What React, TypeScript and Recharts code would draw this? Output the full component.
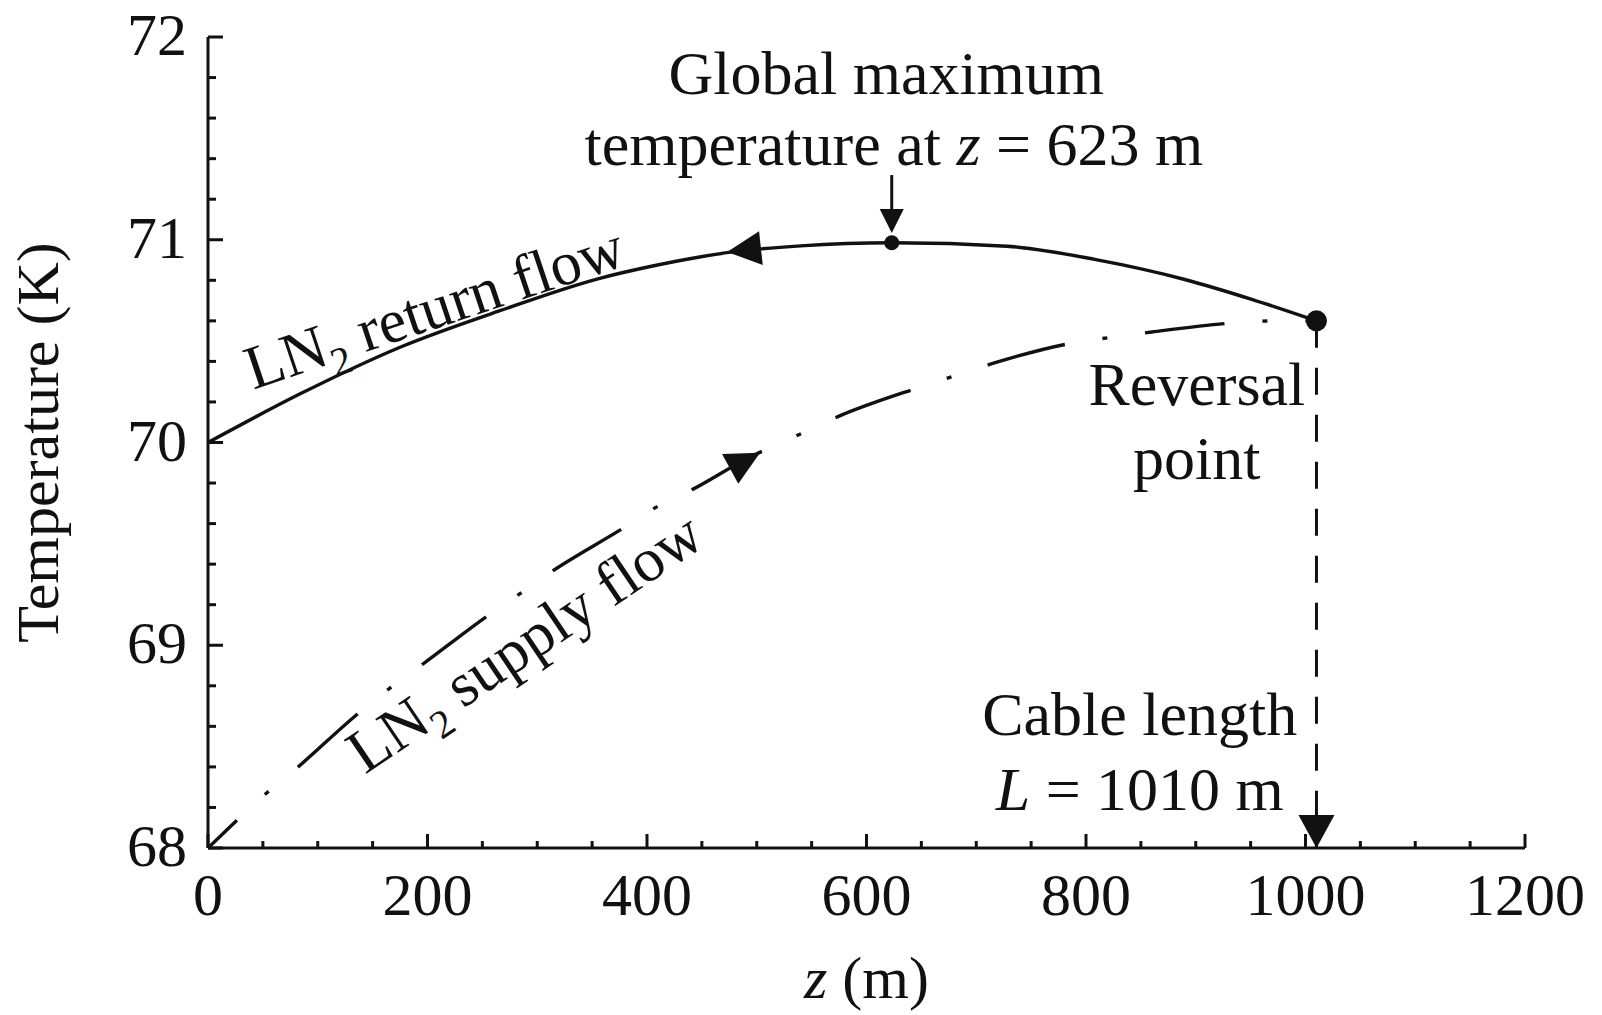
import React from 'react';
import { ComposedChart, Line, XAxis, YAxis, ReferenceDot, ReferenceLine, Label } from 'recharts';

// ---- data ----
const returnZ = [0, 84, 175, 266, 357, 403, 448, 478, 540, 623, 728, 809, 890, 951, 1010];
const returnT = [70.0, 70.24, 70.47, 70.65, 70.81, 70.868, 70.915, 70.94, 70.97, 70.985, 70.968, 70.902, 70.804, 70.706, 70.6];

const supplyZ = [0, 25, 51, 80, 136, 166, 194, 256, 283, 315, 379, 408, 442, 491, 510, 543, 575, 647, 681, 715, 787, 825, 860, 935, 972, 1010];
const supplyT = [68.0, 68.13, 68.26, 68.39, 68.66, 68.79, 68.9, 69.15, 69.25, 69.37, 69.58, 69.68, 69.77, 69.92, 69.97, 70.05, 70.13, 70.27, 70.33, 70.39, 70.49, 70.52, 70.545, 70.59, 70.6, 70.6];

const xTicks = [0, 50, 100, 150, 200, 250, 300, 350, 400, 450, 500, 550, 600, 650, 700, 750, 800, 850, 900, 950, 1000, 1050, 1100, 1150, 1200];
const xMajorTicks = [0, 200, 400, 600, 800, 1000, 1200];
const yTicks = [68, 68.2, 68.4, 68.6, 68.8, 69, 69.2, 69.4, 69.6, 69.8, 70, 70.2, 70.4, 70.6, 70.8, 71, 71.2, 71.4, 71.6, 71.8, 72];
const yMajorTicks = [68, 69, 70, 71, 72];

const maxPoint = { z: 623, t: 70.985 };
const reversalPoint = { z: 1010, t: 70.6 };
const cableLength = 1010;
const returnArrow = { z: 473, t: 70.94 };
const supplyArrow = { z: 503, t: 69.95 };

const returnData = returnZ.map((z, i) => ({ z, t: returnT[i] }));
const supplyData = supplyZ.map((z, i) => ({ z, t: supplyT[i] }));

// ---- style ----
const FONT = "'Liberation Serif', 'Times New Roman', serif";
const INK = '#111';
const TICK_FS = 60;
const ANN_FS = 62;
const AXIS_W = 3;
const CURVE_W = 3.4;

const isMajor = (v: number, majors: number[]) => majors.some((m) => Math.abs(m - v) < 1e-6);

const BottomTick = (p: any) => {
  const { x, y, payload } = p;
  const major = isMajor(payload.value, xMajorTicks);
  return (
    <g>
      <line x1={x} y1={y} x2={x} y2={y - (major ? 14 : 7)} stroke={INK} strokeWidth={AXIS_W} />
      {major && (
        <text x={x} y={y + 67} textAnchor="middle" fontSize={TICK_FS} fontFamily={FONT} fill={INK}>
          {payload.value}
        </text>
      )}
    </g>
  );
};
const TopTick = (p: any) => {
  const { x, y, payload } = p;
  const major = isMajor(payload.value, xMajorTicks);
  return <line x1={x} y1={y} x2={x} y2={y + (major ? 14 : 7)} stroke={INK} strokeWidth={AXIS_W} />;
};
const LeftTick = (p: any) => {
  const { x, y, payload } = p;
  const major = isMajor(payload.value, yMajorTicks);
  return (
    <g>
      <line x1={x} y1={y} x2={x + (major ? 15 : 8)} y2={y} stroke={INK} strokeWidth={AXIS_W} />
      {major && (
        <text x={x - 21} y={y + 18} textAnchor="end" fontSize={TICK_FS} fontFamily={FONT} fill={INK}>
          {Math.round(payload.value)}
        </text>
      )}
    </g>
  );
};
const RightTick = (p: any) => {
  const { x, y, payload } = p;
  const major = isMajor(payload.value, yMajorTicks);
  return <line x1={x} y1={y} x2={x - (major ? 15 : 8)} y2={y} stroke={INK} strokeWidth={AXIS_W} />;
};

const XTitle = (props: any) => {
  const vb = props.viewBox || { x: 0, y: 0, width: 0, height: 0 };
  const cx = vb.x + vb.width / 2;
  return (
    <text x={cx} y={vb.y + 150} textAnchor="middle" fontSize={TICK_FS} fontFamily={FONT} fill={INK}>
      <tspan fontStyle="italic">z</tspan> (m)
    </text>
  );
};
const YTitle = (props: any) => {
  const vb = props.viewBox || { x: 0, y: 0, width: 0, height: 0 };
  const cy = vb.y + vb.height / 2;
  const x = vb.x + 58;
  return (
    <text x={x} y={cy} transform={`rotate(-90 ${x} ${cy})`} textAnchor="middle" fontSize={TICK_FS} fontFamily={FONT} fill={INK}>
      Temperature (K)
    </text>
  );
};

const arrowHead = (angleDeg: number, len: number, wid: number) => (props: any) => {
  const { cx, cy } = props;
  const a = (angleDeg * Math.PI) / 180;
  const dx = Math.cos(a);
  const dy = Math.sin(a);
  const nx = -dy;
  const ny = dx;
  const bx = cx - len * dx;
  const by = cy - len * dy;
  const pts = `${cx},${cy} ${bx + (nx * wid) / 2},${by + (ny * wid) / 2} ${bx - (nx * wid) / 2},${by - (ny * wid) / 2}`;
  return <polygon points={pts} fill={INK} />;
};

const downArrowWithStem = (props: any) => {
  const { cx, cy } = props;
  return (
    <g>
      <line x1={cx} y1={cy - 58} x2={cx} y2={cy - 20} stroke={INK} strokeWidth={3} />
      <polygon points={`${cx},${cy} ${cx - 12},${cy - 24} ${cx + 12},${cy - 24}`} fill={INK} />
    </g>
  );
};

const textShape = (content: React.ReactNode, angle = 0, anchor: 'start' | 'middle' | 'end' = 'middle') => (props: any) => {
  const { cx, cy } = props;
  return (
    <text
      x={cx}
      y={cy}
      textAnchor={anchor}
      transform={angle ? `rotate(${angle} ${cx} ${cy})` : undefined}
      fontSize={ANN_FS}
      fontFamily={FONT}
      fill={INK}
    >
      {content}
    </text>
  );
};

const ln2 = (rest: string) => (
  <>
    LN<tspan fontSize={40} dy={14}>2</tspan>
    <tspan dy={-14}>{rest}</tspan>
  </>
);

const ax = { xAxisId: 'b', yAxisId: 'l' } as const;

export default function App() {
  return (
    <div style={{ position: 'absolute', left: 0, top: 0, width: 1602, height: 1015, background: '#fff' }}>
      <ComposedChart width={1602} height={1015} margin={{ top: 37, right: 77, bottom: 0, left: 0 }}>
        <XAxis
          xAxisId="b"
          type="number"
          dataKey="z"
          domain={[0, 1200]}
          allowDataOverflow
          ticks={xTicks}
          interval={0}
          height={167}
          tickSize={0}
          tickMargin={0}
          tickLine={false}
          tick={<BottomTick />}
          axisLine={{ stroke: INK, strokeWidth: AXIS_W }}
        >
          <Label content={<XTitle />} />
        </XAxis>
        <XAxis
          xAxisId="t"
          orientation="top"
          type="number"
          domain={[0, 1200]}
          allowDataOverflow
          ticks={xTicks}
          interval={0}
          height={0}
          tickSize={0}
          tickMargin={0}
          tickLine={false}
          tick={<TopTick />}
          axisLine={{ stroke: INK, strokeWidth: AXIS_W }}
        />
        <YAxis
          yAxisId="l"
          type="number"
          domain={[68, 72]}
          allowDataOverflow
          ticks={yTicks}
          interval={0}
          width={208}
          tickSize={0}
          tickMargin={0}
          tickLine={false}
          tick={<LeftTick />}
          axisLine={{ stroke: INK, strokeWidth: AXIS_W }}
        >
          <Label content={<YTitle />} />
        </YAxis>
        <YAxis
          yAxisId="r"
          orientation="right"
          type="number"
          domain={[68, 72]}
          allowDataOverflow
          ticks={yTicks}
          interval={0}
          width={0}
          tickSize={0}
          tickMargin={0}
          tickLine={false}
          tick={<RightTick />}
          axisLine={{ stroke: INK, strokeWidth: AXIS_W }}
        />

        <Line
          {...ax}
          data={returnData}
          dataKey="t"
          type="monotone"
          stroke={INK}
          strokeWidth={CURVE_W}
          dot={false}
          activeDot={false}
          isAnimationActive={false}
        />
        <Line
          {...ax}
          data={supplyData}
          dataKey="t"
          type="monotone"
          stroke={INK}
          strokeWidth={CURVE_W}
          strokeDasharray="80 38 5 38"
          strokeDashoffset={40}
          dot={false}
          activeDot={false}
          isAnimationActive={false}
        />

        <ReferenceLine
          {...ax}
          segment={[
            { x: cableLength, y: reversalPoint.t },
            { x: cableLength, y: 68 },
          ]}
          stroke={INK}
          strokeWidth={3}
          strokeDasharray="27 20"
        />
        <ReferenceDot {...ax} x={cableLength} y={68} r={0} shape={arrowHead(90, 33, 36)} />

        <ReferenceDot {...ax} x={maxPoint.z} y={maxPoint.t} r={7.5} fill={INK} stroke="none" />
        <ReferenceDot {...ax} x={reversalPoint.z} y={reversalPoint.t} r={10.5} fill={INK} stroke="none" />
        <ReferenceDot {...ax} x={returnArrow.z} y={returnArrow.t} r={0} shape={arrowHead(173.7, 34, 34)} />
        <ReferenceDot {...ax} x={supplyArrow.z} y={supplyArrow.t} r={0} shape={arrowHead(-28.5, 34, 34)} />
        <ReferenceDot {...ax} x={623} y={71.033} r={0} shape={downArrowWithStem} />

        <ReferenceDot {...ax} x={618} y={71.72} r={0} shape={textShape('Global maximum')} />
        <ReferenceDot
          {...ax}
          x={625}
          y={71.369}
          r={0}
          shape={textShape(
            <>
              temperature at <tspan fontStyle="italic">z</tspan> = 623 m
            </>
          )}
        />
        <ReferenceDot {...ax} x={212} y={70.57} r={0} shape={textShape(ln2(' return flow'), -18.5)} />
        <ReferenceDot {...ax} x={299} y={68.93} r={0} shape={textShape(ln2(' supply flow'), -34)} />
        <ReferenceDot {...ax} x={901} y={70.185} r={0} shape={textShape('Reversal')} />
        <ReferenceDot {...ax} x={901} y={69.82} r={0} shape={textShape('point')} />
        <ReferenceDot {...ax} x={849} y={68.557} r={0} shape={textShape('Cable length')} />
        <ReferenceDot
          {...ax}
          x={849}
          y={68.187}
          r={0}
          shape={textShape(
            <>
              <tspan fontStyle="italic">L</tspan> = 1010 m
            </>
          )}
        />
      </ComposedChart>
    </div>
  );
}
